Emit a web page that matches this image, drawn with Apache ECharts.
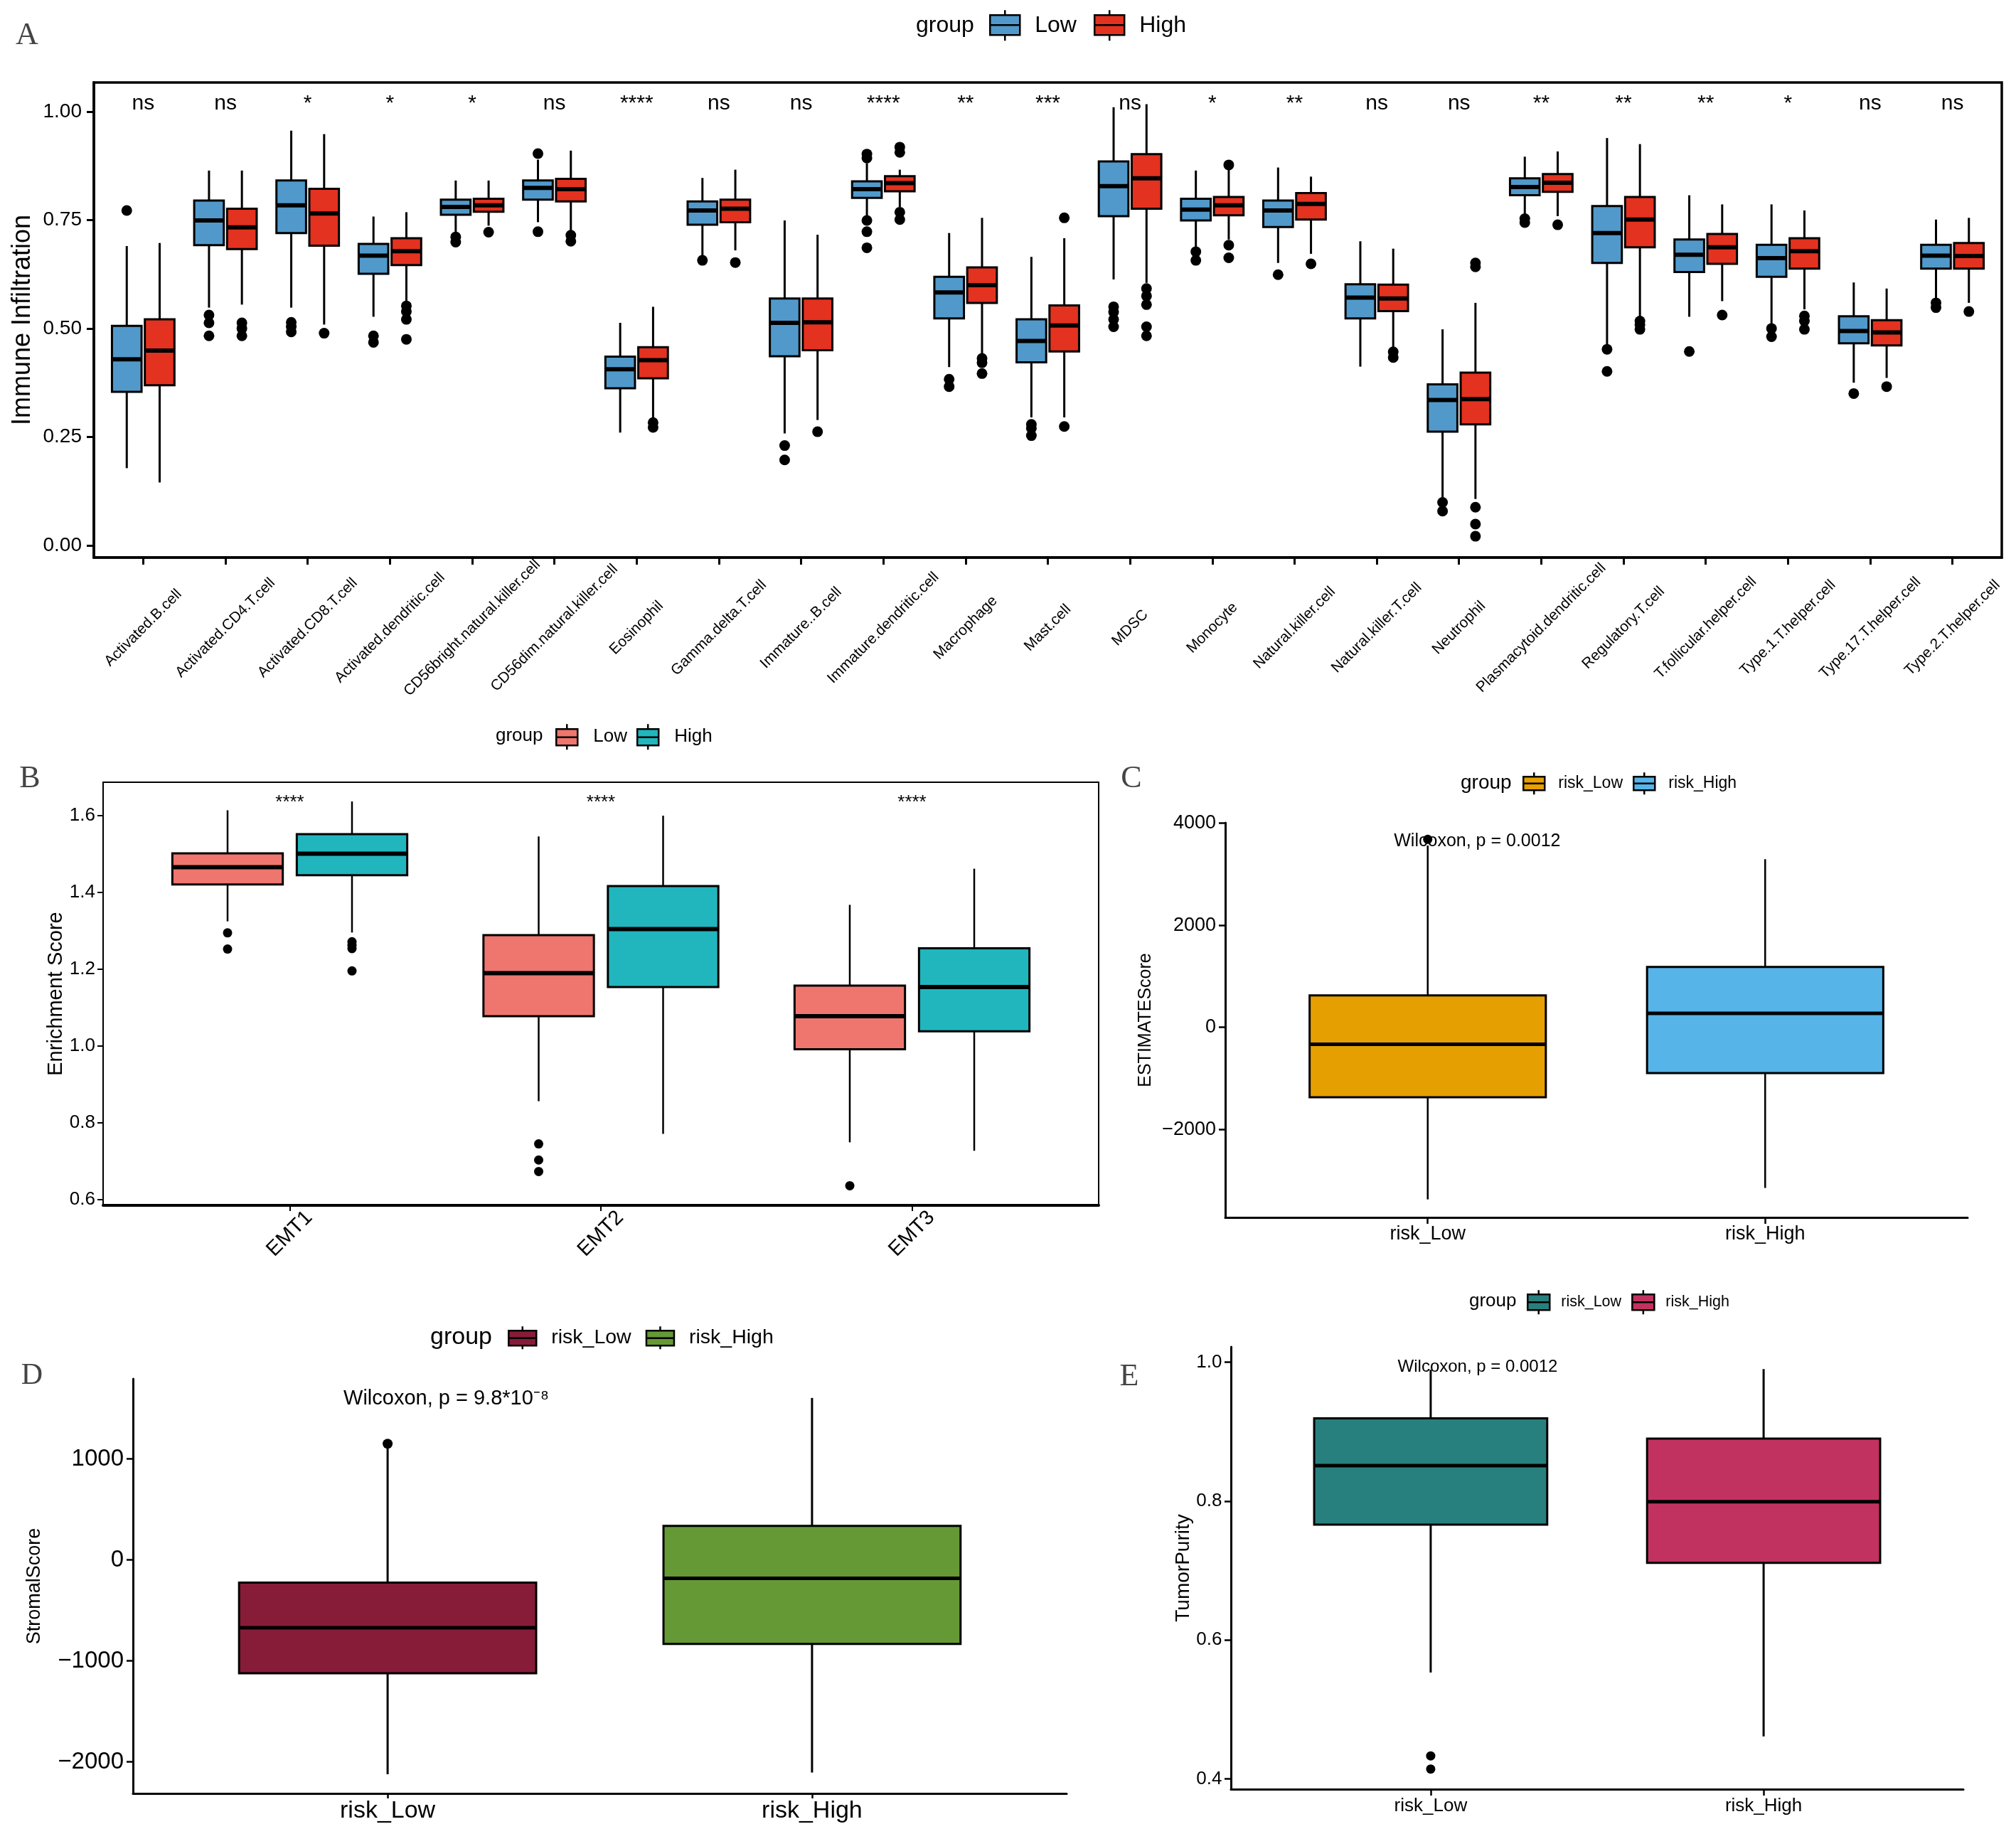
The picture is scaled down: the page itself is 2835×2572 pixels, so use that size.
<!DOCTYPE html>
<html><head><meta charset="utf-8">
<script src="https://cdn.jsdelivr.net/npm/echarts@6/dist/echarts.min.js"></script>
<style>html,body{margin:0;padding:0;background:#fff}#c{width:2835px;height:2572px}</style>
</head><body><div id="c"></div>
<script>
// ---------------- DATA ----------------
const cellTypes = ['Activated.B.cell','Activated.CD4.T.cell','Activated.CD8.T.cell','Activated.dendritic.cell','CD56bright.natural.killer.cell','CD56dim.natural.killer.cell','Eosinophil','Gamma.delta.T.cell','Immature..B.cell','Immature.dendritic.cell','Macrophage','Mast.cell','MDSC','Monocyte','Natural.killer.cell','Natural.killer.T.cell','Neutrophil','Plasmacytoid.dendritic.cell','Regulatory.T.cell','T.follicular.helper.cell','Type.1.T.helper.cell','Type.17.T.helper.cell','Type.2.T.helper.cell'];
// [min, Q1, median, Q3, max]
const immuneLow = [[0.178,0.354,0.429,0.506,0.690],[0.548,0.692,0.749,0.795,0.864],[0.548,0.720,0.784,0.841,0.956],[0.527,0.626,0.668,0.695,0.758],[0.718,0.762,0.780,0.797,0.841],[0.745,0.797,0.824,0.841,0.889],[0.260,0.362,0.406,0.435,0.513],[0.667,0.739,0.772,0.793,0.847],[0.258,0.436,0.513,0.569,0.749],[0.751,0.801,0.821,0.839,0.881],[0.411,0.523,0.583,0.619,0.720],[0.295,0.422,0.471,0.521,0.665],[0.613,0.759,0.828,0.885,1.010],[0.682,0.749,0.774,0.799,0.864],[0.651,0.734,0.772,0.795,0.871],[0.412,0.523,0.571,0.602,0.701],[0.107,0.262,0.335,0.371,0.498],[0.758,0.807,0.826,0.846,0.896],[0.463,0.651,0.720,0.782,0.939],[0.527,0.630,0.670,0.705,0.807],[0.510,0.619,0.662,0.693,0.786],[0.375,0.466,0.494,0.528,0.606],[0.567,0.638,0.668,0.693,0.751]];
const immuneHigh = [[0.145,0.369,0.449,0.521,0.697],[0.555,0.683,0.733,0.776,0.864],[0.509,0.691,0.765,0.822,0.948],[0.559,0.646,0.678,0.708,0.768],[0.737,0.769,0.784,0.799,0.841],[0.722,0.793,0.821,0.845,0.910],[0.287,0.385,0.427,0.457,0.550],[0.680,0.745,0.776,0.797,0.866],[0.289,0.450,0.514,0.569,0.716],[0.780,0.816,0.835,0.851,0.866],[0.439,0.559,0.600,0.641,0.755],[0.295,0.447,0.507,0.553,0.708],[0.605,0.776,0.846,0.902,1.017],[0.705,0.761,0.784,0.803,0.866],[0.672,0.751,0.787,0.812,0.850],[0.454,0.540,0.569,0.601,0.684],[0.107,0.279,0.337,0.398,0.559],[0.759,0.815,0.836,0.856,0.908],[0.521,0.687,0.751,0.803,0.925],[0.563,0.649,0.687,0.718,0.786],[0.544,0.638,0.678,0.708,0.772],[0.386,0.461,0.491,0.519,0.592],[0.559,0.638,0.667,0.697,0.755]];
const immuneLowOut = [[0.772],[0.531,0.513,0.483],[0.514,0.504,0.492],[0.483,0.468],[0.711,0.699],[0.903,0.723],[],[0.657],[0.230,0.197],[0.902,0.893,0.749,0.723,0.686],[0.383,0.366],[0.279,0.270,0.253],[0.550,0.538,0.521,0.504],[0.677,0.657],[0.624],[],[0.099,0.079],[0.753,0.744],[0.452,0.401],[0.447],[0.500,0.481],[0.350],[0.559,0.548]];
const immuneHighOut = [[],[0.513,0.500,0.483],[0.489],[0.552,0.539,0.521,0.475],[0.722],[0.715,0.701],[0.283,0.272],[0.652],[0.262],[0.918,0.906,0.768,0.751],[0.431,0.421,0.396],[0.755,0.274],[0.592,0.575,0.555,0.504,0.483],[0.877,0.692,0.663],[0.649],[0.446,0.433],[0.651,0.642,0.088,0.049,0.021],[0.739],[0.517,0.509,0.498],[0.531],[0.529,0.517,0.498],[0.366],[0.539]];
const immuneSig = ['ns','ns','*','*','*','ns','****','ns','ns','****','**','***','ns','*','**','ns','ns','**','**','**','*','ns','ns'];
const immuneTicks = [0, 0.25, 0.5, 0.75, 1.0];

const emtCats = ['EMT1','EMT2','EMT3'];
const emtLow = [[1.324,1.420,1.465,1.501,1.613],[0.856,1.077,1.189,1.288,1.545],[0.749,0.991,1.077,1.157,1.367]];
const emtHigh = [[1.295,1.444,1.500,1.551,1.636],[0.771,1.153,1.304,1.416,1.599],[0.727,1.038,1.153,1.254,1.461]];
const emtLowOut = [[1.294,1.252],[0.745,0.703,0.673],[0.636]];
const emtHighOut = [[1.271,1.262,1.253,1.195],[],[]];
const emtSig = ['****','****','****'];
const emtTicks = [0.6, 0.8, 1.0, 1.2, 1.4, 1.6];

const riskCats = ['risk_Low','risk_High'];
const estimateLow = [-3367,-1367,-331,626,3560];
const estimateHigh = [-3143,-894,276,1183,3292];
const estimateOut = [[3680],[]];
const estimateTicks = [-2000, 0, 2000, 4000];
const stromalLow = [-2123,-1123,-673,-226,1110];
const stromalHigh = [-2106,-833,-183,337,1603];
const stromalOut = [[1150],[]];
const stromalTicks = [-2000, -1000, 0, 1000];
const purityLow = [0.553,0.766,0.851,0.919,0.989];
const purityHigh = [0.461,0.711,0.799,0.890,0.990];
const purityOut = [[0.433,0.414],[]];
const purityTicks = [0.4, 0.6, 0.8, 1.0];

// ---------------- HELPERS ----------------
const FONT = '"Liberation Sans", Arial, Helvetica, sans-serif';
const SERIF = '"Liberation Serif", "DejaVu Serif", serif';
const minus = v => (v < 0 ? '\u2212' + (-v) : String(v));

// stats: list of [min,Q1,med,Q3,max]; start: category index of the first entry
function boxSeries(name, gi, stats, start, offset, width, color, lw, medW, whiskW) {
  return {
    type: 'custom', name: name, xAxisIndex: gi, yAxisIndex: gi, z: 3,
    itemStyle: { color: color },
    data: stats.map((s, i) => [start + i].concat(s)),
    encode: { x: 0, y: [1, 2, 3, 4, 5] },
    renderItem: function (params, api) {
      const x = api.value(0) + offset;
      const pMin = api.coord([x, api.value(1)]);
      const pQ1 = api.coord([x, api.value(2)]);
      const pMed = api.coord([x, api.value(3)]);
      const pQ3 = api.coord([x, api.value(4)]);
      const pMax = api.coord([x, api.value(5)]);
      const l = api.coord([x - width / 2, api.value(3)])[0];
      const r = api.coord([x + width / 2, api.value(3)])[0];
      return { type: 'group', children: [
        { type: 'line', shape: { x1: pMin[0], y1: pMin[1], x2: pQ1[0], y2: pQ1[1] }, style: { stroke: '#000', lineWidth: whiskW } },
        { type: 'line', shape: { x1: pQ3[0], y1: pQ3[1], x2: pMax[0], y2: pMax[1] }, style: { stroke: '#000', lineWidth: whiskW } },
        { type: 'rect', shape: { x: l, y: pQ3[1], width: r - l, height: pQ1[1] - pQ3[1] }, style: { fill: color, stroke: '#000', lineWidth: lw } },
        { type: 'line', shape: { x1: l, y1: pMed[1], x2: r, y2: pMed[1] }, style: { stroke: '#000', lineWidth: medW } }
      ]};
    }
  };
}
function outlierSeries(name, gi, outs, offset, radius) {
  const data = [];
  outs.forEach((arr, i) => arr.forEach(v => data.push([i, v])));
  return {
    type: 'custom', name: name, xAxisIndex: gi, yAxisIndex: gi, z: 4,
    data: data, encode: { x: 0, y: 1 },
    renderItem: function (params, api) {
      const p = api.coord([api.value(0) + offset, api.value(1)]);
      return { type: 'circle', shape: { cx: p[0], cy: p[1], r: radius }, style: { fill: '#000' } };
    }
  };
}
function textSeries(name, gi, points, labels, fontSize, align) {
  return {
    type: 'custom', name: name, xAxisIndex: gi, yAxisIndex: gi, z: 5,
    data: points, encode: { x: 0, y: 1 },
    renderItem: function (params, api) {
      const p = api.coord([api.value(0), api.value(1)]);
      return { type: 'text', x: p[0], y: p[1], style: { text: labels[params.dataIndex], fill: '#000', fontSize: fontSize, fontFamily: FONT, align: align, verticalAlign: 'middle' } };
    }
  };
}
function keyIcon(w, h, t, b) {
  const m = (t + b) / 2, c = w / 2;
  return 'path://M' + c + ' 0L' + c + ' ' + t + 'M0 ' + t + 'L' + w + ' ' + t + 'L' + w + ' ' + b + 'L0 ' + b + 'ZM0 ' + m + 'L' + w + ' ' + m + 'M' + c + ' ' + b + 'L' + c + ' ' + h;
}
function legendCfg(names, colors, left, top, w, h, t, b, fontSize, padLeft, gap) {
  return {
    left: left, top: top, orient: 'horizontal', padding: 0, itemGap: gap,
    itemWidth: w, itemHeight: h, symbolKeepAspect: false, selectedMode: false,
    icon: keyIcon(w, h, t, b),
    textStyle: { fontSize: fontSize, color: '#000', fontFamily: FONT, padding: [0, 0, 0, padLeft] },
    data: names.map((n, i) => ({ name: n, icon: keyIcon(w, h, t, b), itemStyle: { color: colors[i], borderColor: '#000', borderWidth: 2.5 } }))
  };
}
function valX(gi, labels, opts) {
  const vals = labels.map((_, i) => i);
  return {
    type: 'value', gridIndex: gi, min: -0.6, max: labels.length - 0.4, splitLine: { show: false },
    axisLine: { show: true, onZero: false, lineStyle: { color: '#000', width: opts.lineW } },
    axisTick: { show: true, customValues: vals, length: opts.tickLen, lineStyle: { color: '#000', width: opts.tickW } },
    axisLabel: Object.assign({ customValues: vals, color: '#000', fontFamily: FONT, fontSize: opts.fontSize, margin: opts.margin,
      formatter: v => labels[Math.round(v)] }, opts.extra || {})
  };
}
function valY(gi, min, max, ticks, fmt, opts) {
  return {
    type: 'value', gridIndex: gi, min: min, max: max, splitLine: { show: false },
    name: opts.name, nameLocation: 'middle', nameGap: opts.nameGap,
    nameTextStyle: { fontSize: opts.nameSize, color: '#000', fontFamily: FONT },
    axisLine: { show: true, onZero: false, lineStyle: { color: '#000', width: opts.lineW } },
    axisTick: { show: true, customValues: ticks, length: opts.tickLen, lineStyle: { color: '#000', width: opts.tickW } },
    axisLabel: { customValues: ticks, color: '#000', fontFamily: FONT, fontSize: opts.fontSize, margin: opts.margin, formatter: fmt }
  };
}
function label(text, x, y, size, family, fill) {
  return { type: 'text', x: x, y: y, style: { text: text, fontSize: size, fontFamily: family, fill: fill, align: family === SERIF ? 'center' : 'left', verticalAlign: 'middle' } };
}

// ---------------- COLORS ----------------
const colA = ['#5199CA', '#E3321F'];
const colB = ['#EE766F', '#21B6BE'];
const colC = ['#E69F00', '#56B4E9'];
const colD = ['#871C39', '#659936'];
const colE = ['#28807E', '#C23260'];

const option = {
  animation: false,
  backgroundColor: '#fff',
  textStyle: { fontFamily: FONT },
  grid: [
    { left: 132, right: 20, top: 116, bottom: 1788, show: true, borderColor: '#000', borderWidth: 3.5, backgroundColor: 'transparent', outerBoundsMode: 'none' },
    { left: 145, right: 1290, top: 1100, bottom: 877, show: true, borderColor: '#000', borderWidth: 2, backgroundColor: 'transparent', outerBoundsMode: 'none' },
    { left: 1723, right: 68, top: 1157, bottom: 860, outerBoundsMode: 'none' },
    { left: 187, right: 1335, top: 1939, bottom: 50, outerBoundsMode: 'none' },
    { left: 1731, right: 74, top: 1894, bottom: 56, outerBoundsMode: 'none' }
  ],
  xAxis: [
    valX(0, cellTypes, { lineW: 3.5, tickLen: 10, tickW: 3, fontSize: 21, margin: 99, extra: { rotate: 45, align: 'center', verticalAlign: 'middle' } }),
    valX(1, emtCats, { lineW: 4, tickLen: 8, tickW: 2, fontSize: 29, margin: 40, extra: { rotate: 45, align: 'center', verticalAlign: 'middle' } }),
    valX(2, riskCats, { lineW: 3, tickLen: 9, tickW: 2.5, fontSize: 27, margin: 10 }),
    valX(3, riskCats, { lineW: 3, tickLen: 7, tickW: 2.5, fontSize: 34, margin: 8 }),
    valX(4, riskCats, { lineW: 3, tickLen: 9, tickW: 2.5, fontSize: 26, margin: 11 })
  ],
  yAxis: [
    valY(0, -0.028, 1.067, immuneTicks, v => v.toFixed(2), { name: 'Immune Infiltration', nameGap: 82, nameSize: 36, lineW: 3.5, tickLen: 10, tickW: 3, fontSize: 28, margin: 17 }),
    valY(1, 0.585, 1.686, emtTicks, v => v.toFixed(1), { name: 'Enrichment Score', nameGap: 52, nameSize: 29, lineW: 2, tickLen: 8, tickW: 2, fontSize: 26, margin: 11 }),
    valY(2, -3720, 4005, estimateTicks, minus, { name: 'ESTIMATEScore', nameGap: 99, nameSize: 25, lineW: 3, tickLen: 9, tickW: 2.5, fontSize: 27, margin: 13 }),
    valY(3, -2313, 1792, stromalTicks, minus, { name: 'StromalScore', nameGap: 125, nameSize: 27, lineW: 3, tickLen: 9, tickW: 2.5, fontSize: 33, margin: 13 }),
    valY(4, 0.385, 1.022, purityTicks, v => v.toFixed(1), { name: 'TumorPurity', nameGap: 53, nameSize: 28, lineW: 3, tickLen: 9, tickW: 2.5, fontSize: 26, margin: 12.5 })
  ],
  legend: [
    legendCfg(['Low', 'High'], colA, 1391, 13, 42, 43, 7, 35, 32, 16, 24),
    legendCfg(['Low', 'High'], colB, 781, 1017, 30, 36, 7, 30, 26, 17, 13),
    legendCfg(['risk_Low', 'risk_High'], colC, 2141, 1085, 30, 31, 6, 25, 23, 14, 14),
    legendCfg(['risk_Low', 'risk_High'], colD, 714, 1864, 39, 32, 6, 27, 28.5, 16, 20),
    legendCfg(['risk_Low', 'risk_High'], colE, 2147, 1813, 31, 34, 6, 28, 21.5, 11, 14)
  ],
  graphic: [
    label('A', 38, 50, 44, SERIF, '#444'),
    label('B', 42, 1095, 44, SERIF, '#444'),
    label('C', 1591, 1095, 44, SERIF, '#444'),
    label('D', 45, 1935, 42, SERIF, '#444'),
    label('E', 1588, 1936, 44, SERIF, '#444'),
    label('group', 1288, 36, 32, FONT, '#000'),
    label('group', 697, 1035, 26, FONT, '#000'),
    label('group', 2054, 1101, 28, FONT, '#000'),
    label('group', 605, 1881, 34, FONT, '#000'),
    label('group', 2066, 1830, 26, FONT, '#000')
  ],
  series: [
    boxSeries('Low', 0, immuneLow, 0, -0.2, 0.36, colA[0], 3, 6, 3),
    boxSeries('High', 0, immuneHigh, 0, 0.2, 0.36, colA[1], 3, 6, 3),
    outlierSeries('Low outliers A', 0, immuneLowOut, -0.2, 7.5),
    outlierSeries('High outliers A', 0, immuneHighOut, 0.2, 7.5),
    textSeries('sigA', 0, immuneSig.map((s, i) => [i, 1.018]), immuneSig, 30, 'center'),

    boxSeries('Low', 1, emtLow, 0, -0.2, 0.355, colB[0], 3, 6, 2.5),
    boxSeries('High', 1, emtHigh, 0, 0.2, 0.355, colB[1], 3, 6, 2.5),
    outlierSeries('Low outliers B', 1, emtLowOut, -0.2, 6.5),
    outlierSeries('High outliers B', 1, emtHighOut, 0.2, 6.5),
    textSeries('sigB', 1, emtSig.map((s, i) => [i, 1.633]), emtSig, 26, 'center'),

    boxSeries('risk_Low', 2, [estimateLow], 0, 0, 0.70, colC[0], 3, 5, 2.5),
    boxSeries('risk_High', 2, [estimateHigh], 1, 0, 0.70, colC[1], 3, 5, 2.5),
    outlierSeries('outC', 2, estimateOut, 0, 6.5),
    textSeries('pC', 2, [[-0.1, 3644]], ['Wilcoxon, p = 0.0012'], 25, 'left'),

    boxSeries('risk_Low', 3, [stromalLow], 0, 0, 0.70, colD[0], 3, 5, 3),
    boxSeries('risk_High', 3, [stromalHigh], 1, 0, 0.70, colD[1], 3, 5, 3),
    outlierSeries('outD', 3, stromalOut, 0, 7),
    textSeries('pD', 3, [[-0.104, 1595]], ['Wilcoxon, p = 9.8*10\u207B\u2078'], 29, 'left'),

    boxSeries('risk_Low', 4, [purityLow], 0, 0, 0.70, colE[0], 3, 5, 3),
    boxSeries('risk_High', 4, [purityHigh], 1, 0, 0.70, colE[1], 3, 5, 3),
    outlierSeries('outE', 4, purityOut, 0, 6.5),
    textSeries('pE', 4, [[-0.099, 0.993]], ['Wilcoxon, p = 0.0012'], 24, 'left')
  ]
};

const chart = echarts.init(document.getElementById('c'), null, { renderer: 'canvas' });
chart.setOption(option);
</script>
</body></html>
